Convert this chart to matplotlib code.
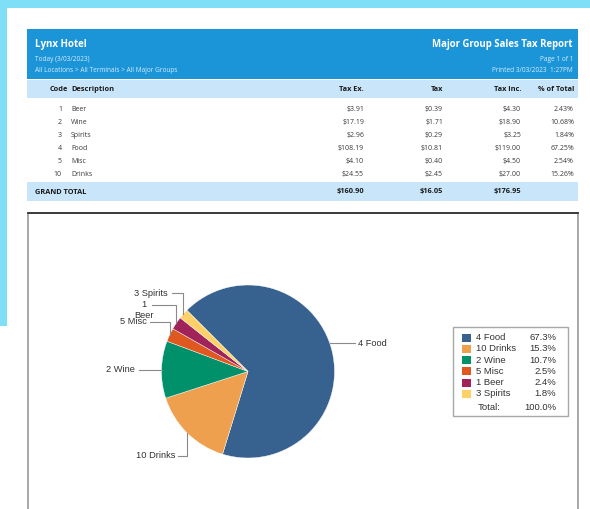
import numpy as np
import matplotlib
matplotlib.use("Agg")
import matplotlib.pyplot as plt
from matplotlib.patches import Rectangle

# report data
codes = [1, 2, 3, 4, 5, 10]
descriptions = ["Beer", "Wine", "Spirits", "Food", "Misc", "Drinks"]
tax_ex = [3.91, 17.19, 2.96, 108.19, 4.10, 24.55]
tax = [0.39, 1.71, 0.29, 10.81, 0.40, 2.45]
tax_inc = [4.30, 18.90, 3.25, 119.00, 4.50, 27.00]
pct_total = [2.43, 10.68, 1.84, 67.25, 2.54, 15.26]

slice_colors = {"Food": "#37618f", "Drinks": "#eea04e", "Wine": "#00916a",
                "Misc": "#de581f", "Beer": "#a02459", "Spirits": "#fdd068"}

CYAN = "#7fdff7"
BLUE = "#1b95d8"
LIGHT = "#c8e5fa"
TABLE_FONT = ["Open Sans", "DejaVu Sans"]
PIE_FONT = ["Liberation Sans", "DejaVu Sans"]

W, H = 590, 509
fig = plt.figure(figsize=(W / 100, H / 100), dpi=100)
bg = fig.add_axes([0, 0, 1, 1])
bg.set_xlim(0, W)
bg.set_ylim(H, 0)
bg.axis("off")

# page background
bg.add_patch(Rectangle((0, 0), W, 8, color=CYAN, lw=0))
bg.add_patch(Rectangle((0, 0), 6.5, 326, color=CYAN, lw=0))

# report header
bg.add_patch(Rectangle((27, 29), 551, 50, color=BLUE, lw=0))
bg.text(35, 44, "Lynx Hotel", color="white", fontsize=7, fontweight="bold",
        family=TABLE_FONT, va="center")
bg.text(35, 59, "Today (3/03/2023)", color="#d4ecfb", fontsize=4.7,
        family=TABLE_FONT, va="center")
bg.text(35, 70, "All Locations > All Terminals > All Major Groups", color="#d4ecfb",
        fontsize=4.7, family=TABLE_FONT, va="center")
bg.text(573, 44, "Major Group Sales Tax Report", color="white", fontsize=6.9,
        fontweight="bold", family=TABLE_FONT, va="center", ha="right")
bg.text(573, 59, "Page 1 of 1", color="#d4ecfb", fontsize=4.7,
        family=TABLE_FONT, va="center", ha="right")
bg.text(573, 70, "Printed 3/03/2023  1:27PM", color="#d4ecfb", fontsize=4.7,
        family=TABLE_FONT, va="center", ha="right")

# table
bg.add_patch(Rectangle((27, 79.5), 551, 18, color=LIGHT, lw=0))
hdr = dict(fontsize=5.3, fontweight="bold", family=TABLE_FONT, va="center", color="#1a1a1a")
bg.text(68, 89.5, "Code", ha="right", **hdr)
bg.text(71, 89.5, "Description", ha="left", **hdr)
col_x = [364, 443, 521, 574]
for x, name in zip(col_x, ["Tax Ex.", "Tax", "Tax Inc.", "% of Total"]):
    bg.text(x, 89.5, name, ha="right", **hdr)

cell = dict(fontsize=5.0, family=TABLE_FONT, va="center", color="#3a3a3a")
row_y = 109.3
for i in range(len(codes)):
    y = row_y + i * 13
    bg.text(62, y, str(codes[i]), ha="right", **cell)
    bg.text(71, y, descriptions[i], ha="left", **cell)
    bg.text(col_x[0], y, f"${tax_ex[i]:.2f}", ha="right", **cell)
    bg.text(col_x[1], y, f"${tax[i]:.2f}", ha="right", **cell)
    bg.text(col_x[2], y, f"${tax_inc[i]:.2f}", ha="right", **cell)
    bg.text(col_x[3], y, f"{pct_total[i]:.2f}%", ha="right", **cell)

bg.add_patch(Rectangle((27, 182), 551, 19, color=LIGHT, lw=0))
bg.text(35, 192, "GRAND TOTAL", ha="left", **hdr)
bg.text(col_x[0], 192, f"${sum(tax_ex):.2f}", ha="right", **hdr)
bg.text(col_x[1], 192, f"${sum(tax):.2f}", ha="right", **hdr)
bg.text(col_x[2], 192, f"${sum(tax_inc):.2f}", ha="right", **hdr)

# chart frame
bg.add_patch(Rectangle((28, 212.5), 549.5, 310, facecolor="white",
                       edgecolor="#9a9a9a", lw=1.2))
bg.plot([28, 577.5], [212.5, 212.5], color="#333333", lw=1.3)

# pie, sorted by share
order = np.argsort(tax_inc)[::-1]
total = sum(tax_inc)
names = [descriptions[i] for i in order]
labels = [f"{codes[i]} {descriptions[i]}" for i in order]
values = [tax_inc[i] for i in order]
shares = [v / total * 100 for v in values]

cx, cy, R = 248, 371.5, 86.5
pax = fig.add_axes([(cx - R) / W, (H - cy - R) / H, 2 * R / W, 2 * R / H])
wedges, _ = pax.pie(values, colors=[slice_colors[n] for n in names], startangle=135,
                    counterclock=False, radius=1,
                    wedgeprops=dict(linewidth=0.3, edgecolor="white"))
pax.set_xlim(-1, 1)
pax.set_ylim(-1, 1)
pax.set_aspect("auto")

# label placement (pixel coords): label y, end of leader line, text anchor x
label_layout = {
    "Food": (343, 355, 358, "left"),
    "Drinks": (456, 178, 175, "right"),
    "Wine": (369.5, 139, 135, "right"),
    "Misc": (322, 150, 147, "right"),
    "Beer": (305, 152, 150, "right"),
    "Spirits": (293, 172, 168, "right"),
}
line_kw = dict(color="#8a8a8a", lw=0.8, transform=bg.transData, clip_on=False)
for w, name, lab in zip(wedges, names, labels):
    ly, lend, tx, ha = label_layout[name]
    mid = np.deg2rad((w.theta1 + w.theta2) / 2)
    if name in ("Food", "Wine"):
        ex = cx + np.sign(np.cos(mid)) * np.sqrt(R ** 2 - (ly - cy) ** 2)
        pax.plot([ex, lend], [ly, ly], **line_kw)
    else:
        ax_ = cx + R * np.cos(mid)
        ay_ = cy - R * np.sin(mid)
        pax.plot([ax_, ax_, lend], [ay_, ly, ly], **line_kw)
    if name == "Beer":
        lab = lab.replace(" ", "\n")
        bg.text(tx - 6, ly - 5, lab, ha="center", va="top", multialignment="center",
                fontsize=6.7, family=PIE_FONT, color="#333333", linespacing=1.25)
    else:
        bg.text(tx, ly, lab, ha=ha, va="center", fontsize=6.7, family=PIE_FONT,
                color="#333333")

# legend box
bg.add_patch(Rectangle((453, 327), 115, 89, facecolor="white",
                       edgecolor="#a8a8a8", lw=1))
leg_y = 337.5
for k, (name, lab, s) in enumerate(zip(names, labels, shares)):
    y = leg_y + k * 11.3
    bg.add_patch(Rectangle((462, y - 4), 9, 8, color=slice_colors[name], lw=0))
    bg.text(476, y, lab, ha="left", va="center", fontsize=6.8, family=PIE_FONT,
            color="#333333")
    bg.text(556, y, f"{s:.1f}%", ha="right", va="center", fontsize=6.8,
            family=PIE_FONT, color="#333333")
bg.text(478, 408, "Total:", ha="left", va="center", fontsize=6.8, family=PIE_FONT,
        color="#333333")
bg.text(556, 408, f"{sum(shares):.1f}%", ha="right", va="center", fontsize=6.8,
        family=PIE_FONT, color="#333333")

fig.savefig("out.png", dpi=100)
